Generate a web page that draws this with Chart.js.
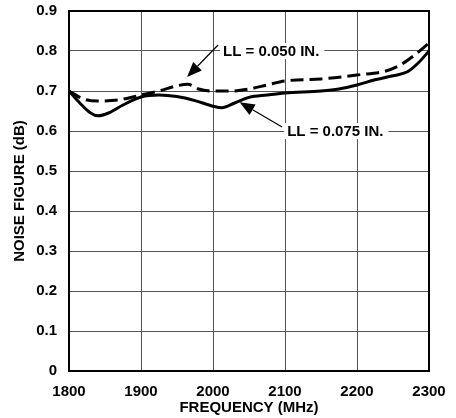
<!DOCTYPE html>
<html>
<head>
<meta charset="utf-8">
<script src="https://cdn.jsdelivr.net/npm/chart.js@4/dist/chart.umd.min.js"></script>
<style>
  html, body { margin: 0; padding: 0; background: #fff; }
  #wrap { width: 456px; height: 418px; }
</style>
</head>
<body>
<div id="wrap"><canvas id="myChart" width="456" height="418"></canvas></div>
<script>
// frequency (MHz) vs noise figure (dB)
const freqSolid = [1800, 1815, 1830, 1840, 1855, 1875, 1900, 1925, 1950, 1975, 2000, 2012, 2030, 2050, 2075, 2100, 2150, 2175, 2200, 2225, 2250, 2270, 2285, 2300];
const nf075 =     [0.70, 0.67, 0.645, 0.638, 0.645, 0.665, 0.685, 0.69, 0.686, 0.676, 0.662, 0.658, 0.67, 0.684, 0.69, 0.695, 0.70, 0.705, 0.715, 0.728, 0.738, 0.748, 0.77, 0.80];

const freqDash = [1800, 1820, 1840, 1870, 1900, 1925, 1950, 1965, 1980, 2000, 2025, 2050, 2075, 2100, 2150, 2200, 2240, 2260, 2280, 2300];
const nf050 =    [0.70, 0.68, 0.675, 0.678, 0.69, 0.70, 0.713, 0.717, 0.705, 0.70, 0.70, 0.705, 0.715, 0.725, 0.73, 0.74, 0.75, 0.765, 0.79, 0.82];

const xTicks = [1800, 1900, 2000, 2100, 2200, 2300];
const yTicks = [0, 0.1, 0.2, 0.3, 0.4, 0.5, 0.6, 0.7, 0.8, 0.9];

// callouts: label, text anchor, arrow tail, arrow tip (data units)
const callouts = [
    { text: 'LL = 0.050 IN.', at: [2014, 0.80], tail: [2007, 0.815], tip: [1964, 0.735] },
    { text: 'LL = 0.075 IN.', at: [2103, 0.60], tail: [2096, 0.61], tip: [2037, 0.672] }
];

const FONT = 'bold 15px "Liberation Sans", Arial, sans-serif';

const frame = {
    id: 'frame',
    afterDatasetsDraw(chart) {
        const { ctx, chartArea: a, scales: { x, y } } = chart;
        ctx.save();
        ctx.strokeStyle = '#000';
        ctx.lineWidth = 2;
        ctx.strokeRect(a.left, a.top, a.right - a.left, a.bottom - a.top);

        ctx.font = FONT;
        ctx.textBaseline = 'middle';
        callouts.forEach(c => {
            const tx = x.getPixelForValue(c.at[0]);
            const ty = y.getPixelForValue(c.at[1]);
            const w = ctx.measureText(c.text).width;
            ctx.fillStyle = '#fff';
            ctx.fillRect(tx - 3, ty - 8, w + 8, 16);
            ctx.fillStyle = '#000';
            ctx.fillText(c.text, tx, ty + 1);

            const x1 = x.getPixelForValue(c.tail[0]), y1 = y.getPixelForValue(c.tail[1]);
            const x2 = x.getPixelForValue(c.tip[0]), y2 = y.getPixelForValue(c.tip[1]);
            const ang = Math.atan2(y2 - y1, x2 - x1);
            const hl = 15, hw = 6;
            const bx = x2 - hl * Math.cos(ang), by = y2 - hl * Math.sin(ang);
            ctx.strokeStyle = '#000';
            ctx.lineWidth = 1.2;
            ctx.beginPath();
            ctx.moveTo(x1, y1);
            ctx.lineTo(bx, by);
            ctx.stroke();
            ctx.beginPath();
            ctx.moveTo(x2, y2);
            ctx.lineTo(bx + hw * Math.sin(ang), by - hw * Math.cos(ang));
            ctx.lineTo(bx - hw * Math.sin(ang), by + hw * Math.cos(ang));
            ctx.closePath();
            ctx.fill();
        });
        ctx.restore();
    }
};

const ctx = document.getElementById('myChart').getContext('2d');
const myChart = new Chart(ctx, {
    type: 'line',
    data: {
        datasets: [
            {
                label: 'LL = 0.075 IN.',
                data: freqSolid.map((f, i) => ({ x: f, y: nf075[i] })),
                borderColor: '#000',
                borderWidth: 3,
                pointRadius: 0,
                tension: 0.4,
                cubicInterpolationMode: 'monotone',
                fill: false
            },
            {
                label: 'LL = 0.050 IN.',
                data: freqDash.map((f, i) => ({ x: f, y: nf050[i] })),
                borderColor: '#000',
                borderWidth: 3,
                borderDash: [13, 6],
                pointRadius: 0,
                tension: 0.4,
                cubicInterpolationMode: 'monotone',
                fill: false
            }
        ]
    },
    options: {
        responsive: false,
        animation: false,
        layout: { padding: { left: 0, top: 11, right: 27, bottom: 0 } },
        plugins: { legend: { display: false }, tooltip: { enabled: false } },
        scales: {
            x: {
                type: 'linear',
                min: 1800,
                max: 2300,
                afterBuildTicks: s => { s.ticks = xTicks.map(v => ({ value: v })); },
                afterFit: s => { s.height = 47; s.paddingLeft = 0; s.paddingRight = 0; },
                grid: { color: '#555', lineWidth: 1, drawTicks: false },
                border: { color: '#000', width: 2 },
                ticks: {
                    color: '#000',
                    font: { family: '"Liberation Sans", Arial', size: 15, weight: 'bold' },
                    padding: 12,
                    maxRotation: 0,
                    callback: v => String(v)
                },
                title: {
                    display: true,
                    text: 'FREQUENCY (MHz)',
                    color: '#000',
                    font: { family: '"Liberation Sans", Arial', size: 15, weight: 'bold' },
                    padding: { top: 0, bottom: 1 }
                }
            },
            y: {
                min: 0,
                max: 0.9,
                afterBuildTicks: s => { s.ticks = yTicks.map(v => ({ value: v })); },
                afterFit: s => { s.width = 69; s.paddingTop = 0; s.paddingBottom = 0; },
                grid: { color: '#555', lineWidth: 1, drawTicks: false },
                border: { color: '#000', width: 2 },
                ticks: {
                    color: '#000',
                    font: { family: '"Liberation Sans", Arial', size: 15, weight: 'bold' },
                    padding: 12,
                    callback: v => (v === 0 ? '0' : v.toFixed(1))
                },
                title: {
                    display: true,
                    text: 'NOISE FIGURE (dB)',
                    color: '#000',
                    font: { family: '"Liberation Sans", Arial', size: 15, weight: 'bold' },
                    padding: { top: 11, bottom: 0 }
                }
            }
        }
    },
    plugins: [frame]
});
</script>
</body>
</html>
